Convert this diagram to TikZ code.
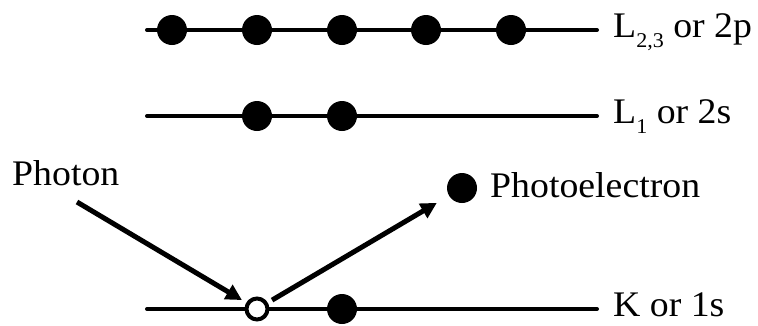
\documentclass[tikz,border=0pt]{standalone}
\usepackage{fontspec}
\setmainfont{Liberation Serif}[FakeStretch=1.05]
\usetikzlibrary{arrows.meta}
\begin{document}
\begin{tikzpicture}[x=1pt,y=-1pt,
  level/.style={line width=4pt,line cap=round},
  elec/.style={circle,fill=black,inner sep=0pt,minimum size=30pt},
  hole/.style={circle,draw=black,line width=4pt,fill=white,inner sep=0pt,minimum size=21pt},
  lbl/.style={anchor=base west,inner sep=0pt,font=\fontsize{36}{42}\selectfont},
  arr/.style={line width=5pt,-{Triangle[length=16pt,width=16pt]}}]
\useasboundingbox (0,0) rectangle (758,325);
% levels
\coordinate (l3a) at (147,30); \coordinate (l3b) at (597,30);
\coordinate (l1a) at (147,116); \coordinate (l1b) at (597,116);
\coordinate (ka) at (147,309); \coordinate (kb) at (597,309);
\draw[level] (l3a) -- (l3b);
\draw[level] (l1a) -- (l1b);
\draw[level] (ka) -- (kb);
% electrons
\node[elec] (p1) at (172,30) {};
\node[elec] (p2) at (257,30) {};
\node[elec] (p3) at (342,30) {};
\node[elec] (p4) at (426,30) {};
\node[elec] (p5) at (511,30) {};
\node[elec] (s1) at (257,116) {};
\node[elec] (s2) at (342,116) {};
\node[hole] (k1) at (257,309) {};
\node[elec] (k2) at (342,309) {};
\node[elec] (pe) at (462,188) {};
% labels
\node[lbl] (t3) at (613,37) {L\raisebox{-10pt}{\fontsize{21}{21}\selectfont 2,3} or 2p};
\node[lbl] (t1) at (613,123) {L\raisebox{-10pt}{\fontsize{21}{21}\selectfont 1} or 2s};
\node[lbl] (tk) at (613,316) {K or 1s};
\node[lbl] (tph) at (12,185) {Photon};
\node[lbl] (tpe) at (490,197) {Photoelectron};
% arrows
\coordinate (phs) at (77,202);
\draw[arr,shorten >=5pt] (phs) -- (k1);
\draw[arr,shorten <=5pt,shorten >=14pt] (k1) -- (pe);
\end{tikzpicture}
\end{document}
